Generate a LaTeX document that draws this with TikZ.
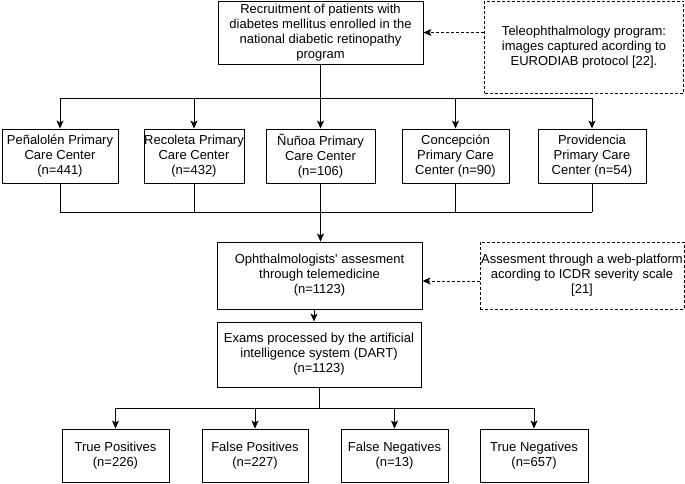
\documentclass[tikz,border=0pt]{standalone}
\usepackage{fontspec}
\setmainfont{Liberation Sans}
\usetikzlibrary{arrows.meta,calc}
\begin{document}
\begin{tikzpicture}[x=1pt,y=-1pt,
  every node/.style={font=\fontsize{13}{15}\selectfont, align=center, inner sep=0pt},
  box/.style={draw, line width=0.9pt, rectangle},
  dbox/.style={draw, line width=0.9pt, dash pattern=on 3pt off 2pt, rectangle},
  conn/.style={line width=0.9pt},
  arr/.style={line width=0.9pt, -{Stealth[length=8pt,width=7pt,inset=2pt]}},
  darr/.style={line width=0.9pt, dash pattern=on 3pt off 2pt, -{Stealth[length=8pt,width=7pt,inset=2pt]}}]
\useasboundingbox (0,0) rectangle (685,484);
% top
\node[box, minimum width=205pt, minimum height=63pt] (top) at (320.5,32.5) {Recruitment of patients with\\diabetes mellitus enrolled in the\\national diabetic retinopathy\\program};
\node[dbox, minimum width=199pt, minimum height=92pt] (tele) at (584,47) {Teleophthalmology program:\\images captured acording to\\EURODIAB protocol [22].};
% row 1
\node[box, minimum width=116pt, minimum height=54pt] (p1) at (60,156) {Peñalolén Primary\\Care Center\\(n=441)};
\node[box, minimum width=100pt, minimum height=54pt] (p2) at (194,156) {Recoleta Primary\\Care Center\\(n=432)};
\node[box, minimum width=109pt, minimum height=54pt] (p3) at (320.5,156) {Ñuñoa Primary\\Care Center\\(n=106)};
\node[box, minimum width=107pt, minimum height=54pt] (p4) at (455.5,156) {Concepción\\Primary Care\\Center (n=90)};
\node[box, minimum width=108pt, minimum height=54pt] (p5) at (592,156) {Providencia\\Primary Care\\Center (n=54)};
% middle
\node[box, minimum width=205pt, minimum height=67pt] (oph) at (319.5,275.5) {Ophthalmologists\textquotesingle{} assesment\\through telemedicine\\(n=1123)};
\node[dbox, minimum width=204pt, minimum height=67pt] (web) at (582,275.5) {Assesment through a web-platform\\acording to ICDR severity scale\\{}[21]};
\node[box, minimum width=204pt, minimum height=65pt] (exams) at (319,354.5) {Exams processed by the artificial\\intelligence system (DART)\\(n=1123)};
% bottom
\node[box, minimum width=107pt, minimum height=53pt] (tp) at (115.5,455.5) {True Positives\\(n=226)};
\node[box, minimum width=106pt, minimum height=53pt] (fp) at (255,455.5) {False Positives\\(n=227)};
\node[box, minimum width=107pt, minimum height=53pt] (fn) at (394.5,455.5) {False Negatives\\(n=13)};
\node[box, minimum width=108pt, minimum height=53pt] (tn) at (534,455.5) {True Negatives\\(n=657)};
% coordinates
\coordinate (bus1) at (0,98);
\coordinate (bus2) at (0,212);
\coordinate (bus3) at (0,408);
\coordinate (webrow) at (0,281);
% connectors top -> row1
\draw[conn] (top.south) -- (top.south |- bus1);
\draw[conn] (p1.north |- bus1) -- (p5.north |- bus1);
\foreach \n in {p1,p2,p3,p4,p5} {\draw[arr] (\n.north |- bus1) -- (\n.north);}
% row1 -> oph
\foreach \n in {p1,p2,p4,p5} {\draw[conn] (\n.south) -- (\n.south |- bus2);}
\draw[conn] (p1.south |- bus2) -- (p5.south |- bus2);
\draw[arr] (p3.south) -- (p3.south |- oph.north);
% oph -> exams
\draw[arr] ([xshift=-5.5pt]oph.south) -- ([xshift=-5.5pt]oph.south |- exams.north);
% exams -> bottom
\draw[conn] (exams.south) -- (exams.south |- bus3);
\draw[conn] (tp.north |- bus3) -- (tn.north |- bus3);
\foreach \n in {tp,fp,fn,tn} {\draw[arr] (\n.north |- bus3) -- (\n.north);}
% dashed
\draw[darr] (tele.west |- top.east) -- (top.east);
\draw[darr] (web.west |- webrow) -- (oph.east |- webrow);
\end{tikzpicture}
\end{document}
